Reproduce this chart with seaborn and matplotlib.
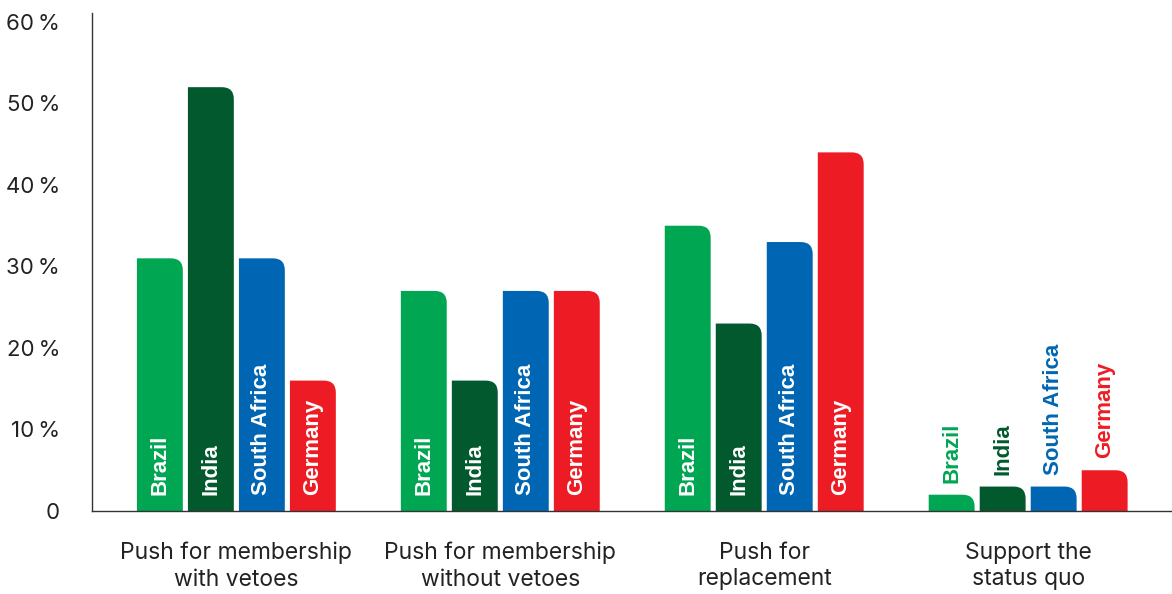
import pandas as pd
import matplotlib
matplotlib.use("Agg")
import matplotlib.pyplot as plt
import seaborn as sns
from matplotlib.path import Path
from matplotlib.patches import PathPatch

# Chart data
categories = ["Push for membership\nwith vetoes", "Push for membership\nwithout vetoes",
              "Push for\nreplacement", "Support the\nstatus quo"]
countries = ["Brazil", "India", "South Africa", "Germany"]
brazil = [31, 27, 35, 2]
india = [52, 16, 23, 3]
south_africa = [31, 27, 33, 3]
germany = [16, 27, 44, 5]
y_ticks = [0, 10, 20, 30, 40, 50, 60]
y_tick_labels = ["0", "10\u2009%", "20\u2009%", "30\u2009%", "40\u2009%", "50\u2009%", "60\u2009%"]

colors = {"Brazil": "#00A651", "India": "#02592E", "South Africa": "#0066B3", "Germany": "#ED1C24"}

series = {"Brazil": brazil, "India": india, "South Africa": south_africa, "Germany": germany}
rows = []
for country in countries:
    for cat, val in zip(categories, series[country]):
        rows.append({"category": cat, "country": country, "value": val})
df = pd.DataFrame(rows)

sns.set_style("white")
plt.rcParams['font.family'] = ['Inter', 'DejaVu Sans']

fig = plt.figure(figsize=(11.72, 5.94), dpi=100)
ax = fig.add_axes([92 / 1172, 83 / 594, 1 - 92 / 1172, (511 - 13) / 594])

sns.barplot(data=df, x="category", y="value", hue="country", order=categories,
            hue_order=countries, palette=colors, width=0.773, gap=0.1,
            saturation=1, legend=False, ax=ax)

ax.set_xlim(-0.547, 3.545)
ax.set_ylim(0, 61.1)

# pixel -> data conversions
px_x = (3.545 + 0.547) / 1080
px_y = 61.1 / 498
rx, ry = 12 * px_x, 12 * px_y

# swap rectangles for bars with a rounded top-right corner, then label them
for country, container in zip(countries, ax.containers):
    for i, bar in enumerate(container):
        x, w, h = bar.get_x(), bar.get_width(), bar.get_height()
        verts = [(x, 0), (x, h), (x + w - rx, h), (x + w, h), (x + w, h - ry), (x + w, 0), (x, 0)]
        codes = [Path.MOVETO, Path.LINETO, Path.LINETO, Path.CURVE3, Path.CURVE3, Path.LINETO, Path.CLOSEPOLY]
        ax.add_patch(PathPatch(Path(verts, codes), facecolor=colors[country], edgecolor="none", zorder=2))
        bar.set_visible(False)
        cx = x + w / 2
        if h > 10:
            ax.text(cx, 16 * px_y, country, rotation=90, ha="center", va="bottom",
                    color="white", fontsize=16, fontweight="bold", family="Liberation Sans", zorder=3)
        else:
            ax.text(cx, h + 12 * px_y, country, rotation=90, ha="center", va="bottom",
                    color=colors[country], fontsize=16, fontweight="bold", family="Liberation Sans", zorder=3)

ax.set_yticks(y_ticks)
ax.set_yticklabels(y_tick_labels)
ax.set_xlabel("")
ax.set_ylabel("")
ax.tick_params(axis="y", length=0, pad=23, labelsize=16, labelcolor="#222222")
ax.tick_params(axis="x", length=0, pad=22, labelsize=16.5, labelcolor="#222222")
for lbl in ax.get_xticklabels():
    lbl.set_linespacing(1.28)

for side in ["top", "right"]:
    ax.spines[side].set_visible(False)
for side in ["left", "bottom"]:
    ax.spines[side].set_color("#333333")
    ax.spines[side].set_linewidth(1)

fig.savefig("out.png", dpi=100)
